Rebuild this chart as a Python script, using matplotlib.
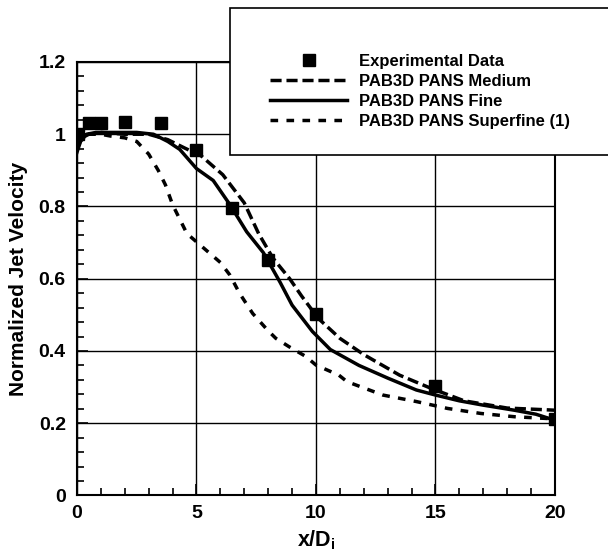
import matplotlib
matplotlib.use("Agg")
import matplotlib.pyplot as plt
from matplotlib.patches import Rectangle
from matplotlib.ticker import MultipleLocator

plt.rcParams['font.family'] = ['Liberation Sans', 'DejaVu Sans']
plt.rcParams['font.weight'] = 'bold'
plt.rcParams['mathtext.fontset'] = 'custom'
plt.rcParams['mathtext.bf'] = 'Liberation Sans:bold'
plt.rcParams['mathtext.rm'] = 'Liberation Sans:bold'
plt.rcParams['lines.scale_dashes'] = False

# experimental data
exp_x = [0.05, 0.5, 1.0, 2.0, 3.5, 5.0, 6.5, 8.0, 10.0, 15.0, 20.0]
exp_y = [1.0, 1.03, 1.03, 1.035, 1.03, 0.955, 0.795, 0.652, 0.502, 0.304, 0.213]

# PAB3D PANS Medium
med_x = [0, 0.2, 0.5, 1, 2, 3, 3.8, 4.5, 5.2, 6.1, 7.0, 7.6, 8.2, 8.9, 9.4,
         10.1, 11.0, 12.0, 13.5, 14.8, 16.2, 18.0, 19.7, 20]
med_y = [0.96, 0.99, 1.0, 1.005, 1.0, 1.0, 0.985, 0.962, 0.94, 0.888, 0.81,
         0.725, 0.657, 0.60, 0.552, 0.49, 0.435, 0.39, 0.333, 0.297, 0.262,
         0.242, 0.237, 0.236]

# PAB3D PANS Fine
fine_x = [0, 0.15, 0.4, 0.8, 1.5, 2.5, 3.2, 3.8, 4.3, 5.0, 5.7, 6.4, 7.1,
          7.8, 8.5, 9.0, 9.85, 10.6, 11.8, 13.0, 14.2, 15.0, 16.0, 17.0,
          18.3, 19.2, 20]
fine_y = [0.95, 0.98, 1.0, 1.005, 1.005, 1.005, 1.0, 0.98, 0.958, 0.905,
          0.872, 0.805, 0.73, 0.672, 0.59, 0.527, 0.454, 0.404, 0.36, 0.325,
          0.292, 0.278, 0.262, 0.25, 0.236, 0.225, 0.208]

# PAB3D PANS Superfine (1)
sup_x = [0, 0.2, 0.5, 1.0, 1.4, 2.0, 2.5, 3.0, 3.4, 3.7, 4.0, 4.6, 5.3, 6.0,
         6.4, 6.8, 7.35, 7.97, 8.32, 8.87, 9.57, 10.0, 10.96, 11.3, 12.8,
         14.2, 15.5, 16.9, 18.3, 19.7, 20]
sup_y = [0.97, 0.99, 1.0, 1.0, 0.995, 0.99, 0.98, 0.945, 0.9, 0.86, 0.805,
         0.725, 0.685, 0.645, 0.61, 0.56, 0.504, 0.458, 0.435, 0.412, 0.385,
         0.361, 0.333, 0.315, 0.278, 0.26, 0.241, 0.227, 0.218, 0.213, 0.212]

fig = plt.figure(figsize=(6.08, 5.52), dpi=100)
ax = fig.add_axes([0.1266, 0.1024, 0.9128 - 0.1266, 0.8877 - 0.1024])

ax.plot(exp_x, exp_y, 's', color='black', markersize=9, label='Experimental Data', zorder=5)
ax.plot(med_x, med_y, color='black', lw=2.5, dashes=(8, 3.5), label='PAB3D PANS Medium')
ax.plot(fine_x, fine_y, color='black', lw=2.5, label='PAB3D PANS Fine')
ax.plot(sup_x, sup_y, color='black', lw=2.5, dashes=(5.5, 6), label='PAB3D PANS Superfine (1)')

ax.set_xlim(0, 20)
ax.set_ylim(0, 1.2)
ax.xaxis.set_major_locator(MultipleLocator(5))
ax.xaxis.set_minor_locator(MultipleLocator(1))
ax.yaxis.set_major_locator(MultipleLocator(0.2))
ax.yaxis.set_minor_locator(MultipleLocator(0.04))
ax.yaxis.set_major_formatter(plt.FuncFormatter(lambda v, p: '%g' % round(v, 2)))
ax.grid(True, which='major', color='black', lw=1)
ax.tick_params(which='both', direction='in', labelsize=14, width=1.2)
ax.tick_params(which='major', length=8)
ax.tick_params(which='minor', length=5)
ax.tick_params(axis='x', pad=7)
ax.tick_params(axis='y', pad=8)
for s in ax.spines.values():
    s.set_linewidth(1.5)

ax.set_xlabel('x/D$_\\mathbf{i}$', fontsize=15.5, fontweight='bold')
ax.xaxis.set_label_coords(0.5, -0.075)
ax.set_ylabel('Normalized Jet Velocity', fontsize=15, fontweight='bold')
ax.yaxis.set_label_coords(-0.1025, 0.5)

# legend box sits over the top right corner of the plot
box = Rectangle((230 / 608, 1 - 155 / 552), 0.7, (155 - 8) / 552,
                transform=fig.transFigure, facecolor='white',
                edgecolor='black', lw=1.2, zorder=3)
fig.patches.append(box)
handles, labels = ax.get_legend_handles_labels()
fig.legend(handles, labels, loc='upper left', bbox_to_anchor=(262 / 608, 1 - 46 / 552),
           frameon=False, fontsize=12, handlelength=4.6, handletextpad=0.7,
           labelspacing=0.3, borderpad=0)

fig.savefig('out.png', dpi=100)
